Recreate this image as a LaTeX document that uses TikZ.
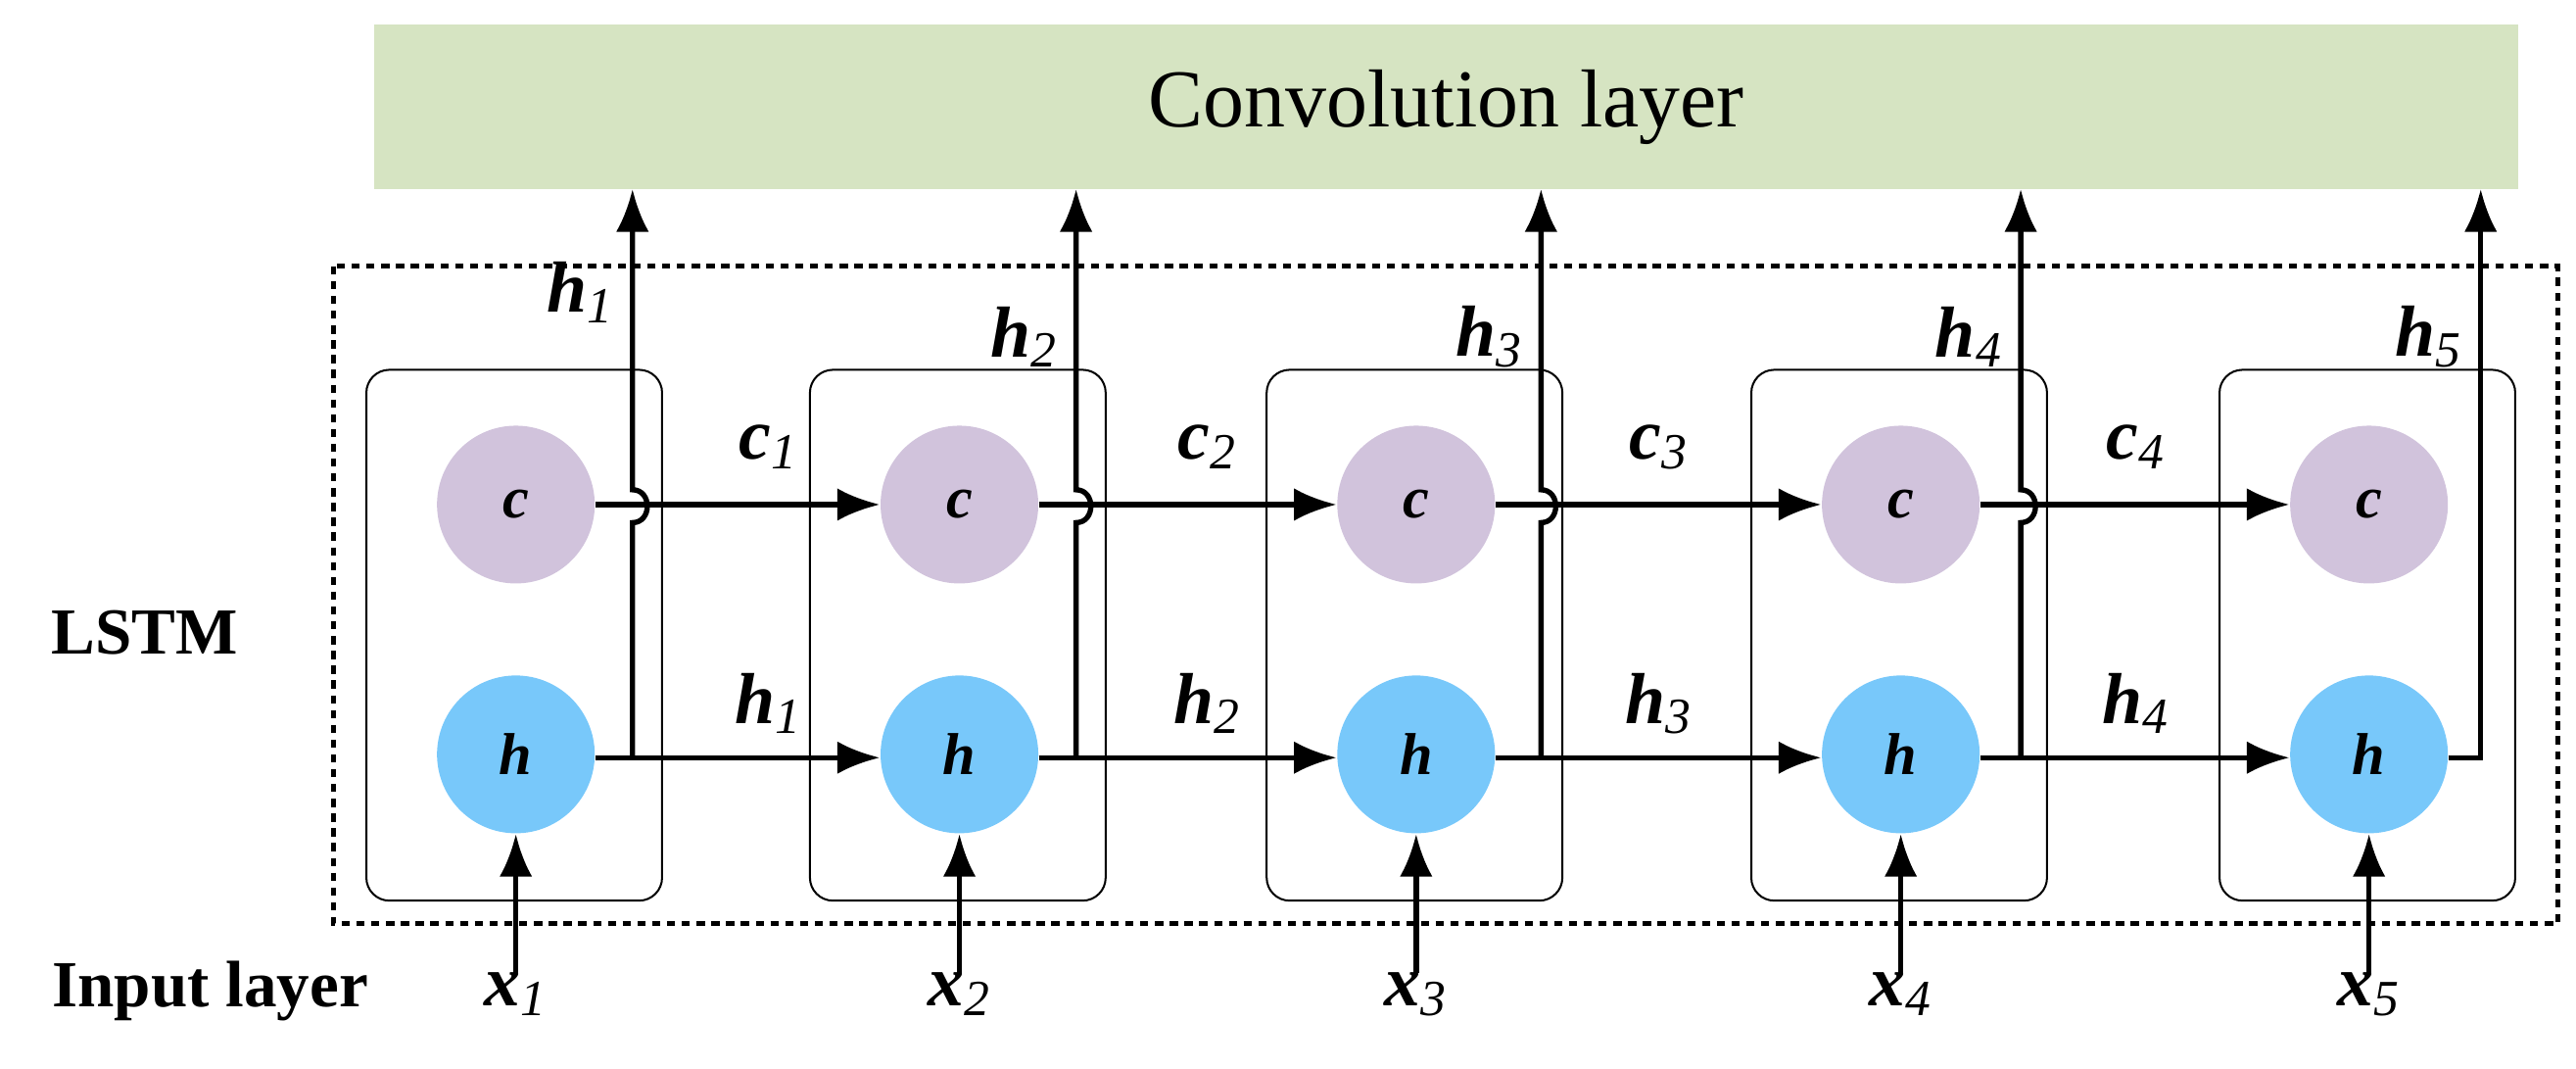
\documentclass[tikz,border=0pt]{standalone}
\usepackage{fontspec}
\setmainfont{Liberation Serif}
\usetikzlibrary{arrows.meta}
\definecolor{convg}{HTML}{D6E4C2}
\definecolor{cpur}{HTML}{D1C3DC}
\definecolor{hblue}{HTML}{78C8FA}
\begin{document}
\begin{tikzpicture}[x=0.5pt,y=-0.5pt,
  thk/.style={line width=1.6pt},
  arr/.style={thk,-{Latex[length=13pt,width=10pt]}},
  cell/.style={draw,line width=0.6pt,rounded corners=7pt},
  cc/.style={circle,fill=cpur,minimum size=48pt,inner sep=0pt,font=\fontsize{18}{20}\selectfont\bfseries\itshape},
  hc/.style={circle,fill=hblue,minimum size=48pt,inner sep=0pt,font=\fontsize{18}{20}\selectfont\bfseries\itshape},
  lab/.style={font=\fontsize{22}{24}\selectfont\bfseries\itshape},
  side/.style={font=\fontsize{20}{24}\selectfont\bfseries}]
\useasboundingbox (0,0) rectangle (1568,650);
\node[fill=convg,minimum width=652.5pt,minimum height=50pt,inner sep=0pt,font=\fontsize{25}{30}\selectfont] (conv) at (880.5,65) {Convolution layer};
\draw[line width=1.4pt,dash pattern=on 2.5pt off 2pt] (203,162) rectangle (1557,562);
\node[side] (lstm) at (88,385) {LSTM};
\node[side] (inp) at (128,603) {Input layer};
\foreach \i/\x/\v/\hy in {1/314/385/178,2/584/655/205,3/862/938/205,4/1157/1230/205,5/1442/1510/205}{
  \draw[cell] (\x-91,225) rectangle (\x+89,548);
  \node[cc] (c\i) at (\x,307) {c};
  \node[hc] (h\i) at (\x,459) {h};
  \coordinate (top\i) at (\v,115);
  \coordinate (in\i) at (\x,592);
  \draw[arr] (in\i) -- (h\i.south);
  \node[lab] (x\i) at (\x,605) {x\textsubscript{\normalfont\itshape\i}};
  \node[lab,anchor=east] (ho\i) at (\v-4,\hy) {h\textsubscript{\normalfont\itshape\i}};
}
\foreach \i/\v in {1/385,2/655,3/938,4/1230}{
  \coordinate (b\i) at (\v,461);
  \draw[thk] (h\i.east |- b\i) -- (b\i);
  \draw[arr] (b\i) -- (\v,318) .. controls (\v+12,318) and (\v+12,298) .. (\v,298) -- (top\i);
}
\coordinate (b5) at (1510,461);
\draw[arr] (h5.east |- b5) -- (b5) -- (top5);
\foreach \i/\j/\m in {1/2/468,2/3/735,3/4/1010,4/5/1300}{
  \draw[arr] (c\i) -- (c\j);
  \draw[arr] (h\i.east |- b\i) -- (h\j.west |- b\i);
  \node[lab] at (\m,272) {c\textsubscript{\normalfont\itshape\i}};
  \node[lab] at (\m,428) {h\textsubscript{\normalfont\itshape\i}};
}
\end{tikzpicture}
\end{document}
